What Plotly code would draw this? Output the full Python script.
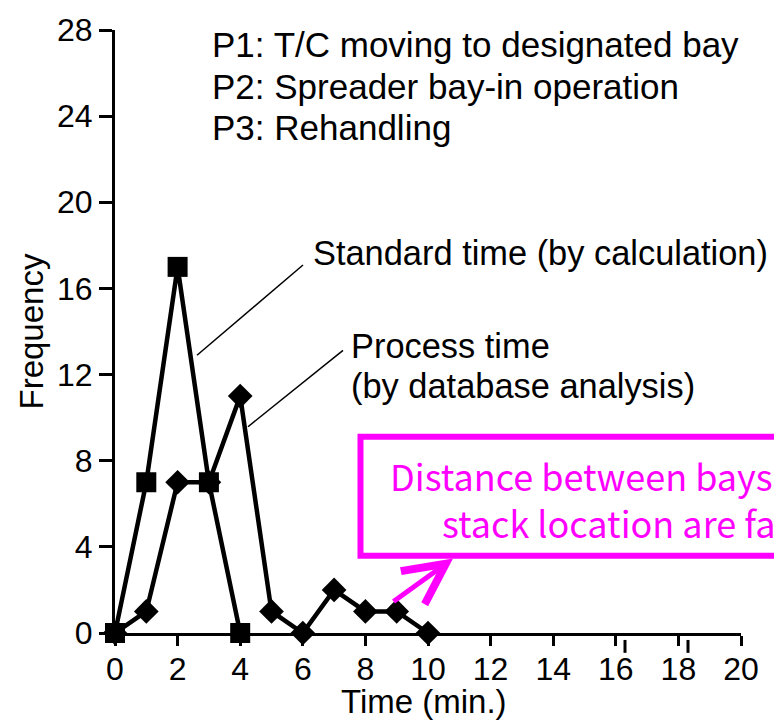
import plotly.graph_objects as go

# ---- data ----
time_std = [0, 1, 2, 3, 4]
freq_std = [0, 7, 17, 7, 0]
time_proc = [0, 1, 2, 3, 4, 5, 6, 7, 8, 9, 10]
freq_proc = [0, 1, 7, 7, 11, 1, 0, 2, 1, 1, 0]
x_ticks = [0, 2, 4, 6, 8, 10, 12, 14, 16, 18, 20]
y_ticks = [0, 4, 8, 12, 16, 20, 24, 28]

legend_lines = ["P1: T/C moving to designated bay",
                "P2: Spreader bay-in operation",
                "P3: Rehandling"]
label_std = "Standard time (by calculation)"
label_proc = ["Process time", "(by database analysis)"]
note_lines = ["Distance between bays and", "stack location are far"]

# ---- layout geometry (pixels) ----
W, H = 774, 721
L, R, T, B = 115, 33, 25, 88
PW, PH = W - L - R, H - T - B
FONT = "Liberation Sans, Arial, sans-serif"
MAGENTA = "#FF00FF"


def px(xp):
    return (xp - L) / PW


def py(yp):
    return (H - B - yp) / PH


fig = go.Figure()
fig.add_trace(go.Scatter(
    x=time_proc, y=freq_proc, mode="lines+markers",
    line=dict(color="black", width=4.5),
    marker=dict(symbol="diamond", size=19, color="black", line=dict(width=0)),
    cliponaxis=False, showlegend=False))
fig.add_trace(go.Scatter(
    x=time_std, y=freq_std, mode="lines+markers",
    line=dict(color="black", width=4.5),
    marker=dict(symbol="square", size=20, color="black", line=dict(width=0)),
    cliponaxis=False, showlegend=False))

annotations = []


def text_ann(text, left, baseline, size, color="black", family=FONT, k=0.35):
    annotations.append(dict(
        text=text, xref="paper", yref="paper", x=px(left), y=py(baseline - k * size),
        xanchor="left", yanchor="middle", showarrow=False,
        font=dict(size=size, color=color, family=family)))


for i, t in enumerate(legend_lines):
    text_ann(t, 210, 52 + 42 * i, 35)
text_ann(label_std, 311, 262, 34.4)
text_ann(label_proc[0], 349, 356, 34.4)
text_ann(label_proc[1], 349, 396, 34.4)
text_ann(note_lines[0], 388, 487, 36, color=MAGENTA, family="Noto Sans CJK JP", k=0.38)
text_ann(note_lines[1], 440, 535, 36, color=MAGENTA, family="Noto Sans CJK JP", k=0.38)

# axis titles
annotations.append(dict(text="Frequency", xref="paper", yref="paper", x=px(31), y=py(329),
                        xanchor="center", yanchor="middle", textangle=-90, showarrow=False,
                        font=dict(size=33, color="black", family=FONT)))
annotations.append(dict(text="Time (min.)", xref="paper", yref="paper", x=px(424), y=py(714 - 0.35 * 33),
                        xanchor="center", yanchor="middle", showarrow=False,
                        font=dict(size=33, color="black", family=FONT)))

# magenta arrow
annotations.append(dict(text="", xref="paper", yref="paper", x=px(453), y=py(558),
                        ax=392 - 453, ay=602 - 558, showarrow=True, arrowhead=5,
                        arrowwidth=5, arrowsize=1.6, arrowcolor=MAGENTA))

shapes = [
    # leader lines
    dict(type="line", xref="paper", yref="paper", x0=px(197), y0=py(353), x1=px(303), y1=py(262),
         line=dict(color="black", width=1.5)),
    dict(type="line", xref="paper", yref="paper", x0=px(248), y0=py(425), x1=px(343), y1=py(348),
         line=dict(color="black", width=1.5)),
    # magenta box
    dict(type="rect", xref="paper", yref="paper", x0=px(360.5), y0=py(435), x1=px(820), y1=py(555),
         line=dict(color=MAGENTA, width=6), fillcolor="rgba(0,0,0,0)"),
    # stray tick marks near 16 and 18
    dict(type="line", xref="paper", yref="paper", x0=px(625), y0=py(640), x1=px(625), y1=py(653),
         line=dict(color="black", width=3)),
    dict(type="line", xref="paper", yref="paper", x0=px(688), y0=py(640), x1=px(688), y1=py(653),
         line=dict(color="black", width=3)),
]

fig.update_layout(
    width=W, height=H, margin=dict(l=L, r=R, t=T, b=B, pad=0),
    paper_bgcolor="white", plot_bgcolor="white",
    font=dict(family=FONT, color="black"),
    annotations=annotations, shapes=shapes,
    xaxis=dict(range=[0, 20], tickvals=x_ticks, ticktext=[str(v) for v in x_ticks],
               showline=True, linewidth=3, linecolor="black", ticks="outside",
               ticklen=10, tickwidth=3, tickcolor="black", showgrid=False, zeroline=False,
               ticklabelstandoff=-4,
               tickfont=dict(size=32, family=FONT, color="black")),
    yaxis=dict(range=[0, 28], tickvals=y_ticks, ticktext=[str(v) for v in y_ticks],
               showline=True, linewidth=3, linecolor="black", ticks="outside",
               ticklen=13, tickwidth=3, tickcolor="black", showgrid=False, zeroline=False,
               tickfont=dict(size=32, family=FONT, color="black")),
)

fig.write_html("out.html")
